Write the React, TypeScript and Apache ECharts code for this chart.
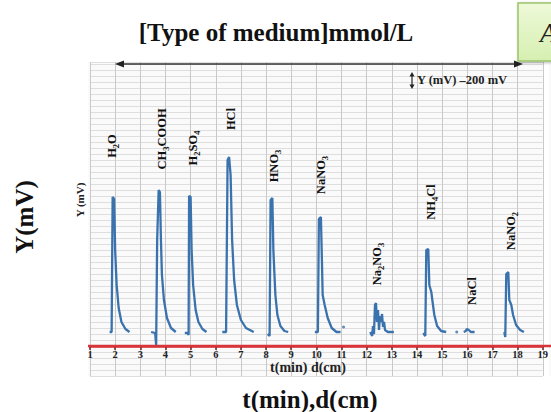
import React, { useEffect, useRef } from "react";
import * as echarts from "echarts";

// x in minutes, y in signal units (0 = red time axis)
const h2oTrace = [[1.78,14],[1.86,14],[1.90,149],[1.96,147],[2.0,96],[2.06,61],[2.14,38],[2.25,24],[2.41,17],[2.57,14]];
const ch3coohTrace = [[3.43,14],[3.59,13],[3.63,1],[3.67,106],[3.73,156],[3.78,154],[3.82,106],[3.86,71],[3.94,46],[4.06,28],[4.22,18],[4.41,14]];
const h2so4Trace = [[4.77,13],[4.88,13],[4.92,11],[4.94,150],[5.0,149],[5.04,96],[5.10,61],[5.20,36],[5.31,24],[5.47,17],[5.63,14]];
const hclTrace = [[6.26,14],[6.41,14],[6.47,186],[6.53,189],[6.59,171],[6.65,106],[6.73,66],[6.84,41],[7.0,26],[7.2,18],[7.51,14]];
const hno3Trace = [[8.06,12],[8.14,10],[8.18,146],[8.25,148],[8.29,96],[8.37,51],[8.45,31],[8.57,20],[8.73,15],[8.88,14]];
const nano3Trace = [[9.94,14],[10.06,14],[10.10,127],[10.18,129],[10.22,86],[10.25,51],[10.33,41],[10.45,28],[10.61,18],[10.8,14],[10.96,14]];
const na2no3Trace = [[12.14,14],[12.22,10],[12.25,20],[12.29,12],[12.33,41],[12.37,43],[12.41,24],[12.45,36],[12.49,16],[12.53,30],[12.57,24],[12.61,32],[12.65,19],[12.69,24],[12.73,16],[12.84,14],[13.08,14]];
const nh4clTrace = [[14.25,13],[14.33,10],[14.37,96],[14.45,97],[14.49,61],[14.57,54],[14.61,46],[14.69,31],[14.8,20],[14.96,15],[15.16,14]];
const naclTrace = [[15.86,14],[15.94,15],[15.98,17],[16.06,16],[16.14,14],[16.29,14]];
const nano2Trace = [[17.47,14],[17.51,9],[17.55,72],[17.63,74],[17.67,46],[17.75,41],[17.82,31],[17.94,21],[18.1,16],[18.25,14]];
const strayPoints = [[11.08,19],[15.58,14]];

const traces = [h2oTrace, ch3coohTrace, h2so4Trace, hclTrace, hno3Trace, nano3Trace, na2no3Trace, nh4clTrace, naclTrace, nano2Trace];

// compound names, as rich-text parts [text, isSubscript]
const compoundNames: [string, boolean][][] = [
  [["H", false], ["2", true], ["O", false]],
  [["CH", false], ["3", true], ["COOH", false]],
  [["H", false], ["2", true], ["SO", false], ["4", true]],
  [["HCl", false]],
  [["HNO", false], ["3", true]],
  [["NaNO", false], ["3", true]],
  [["Na", false], ["2", true], ["NO", false], ["3", true]],
  [["NH", false], ["4", true], ["Cl", false]],
  [["NaCl", false]],
  [["NaNO", false], ["2", true]],
];
// label centres (layout, px)
const labelPos = [[112, 146], [162, 139], [193, 148], [231, 119], [274, 166], [321, 175], [377, 264], [431, 202], [472, 291], [511, 231]];

const titleText = "[Type of medium]mmol/L";
const yName = "Y(mV)";
const xName = "t(min),d(cm)";
const innerXName = "t(min) d(cm)";
const innerYName = "Y (mV)";
const scaleNote = "Y (mV) \u2013200 mV";
const panelLetter = "A";

const SERIF = "'Liberation Serif', 'Times New Roman', serif";

export default function App() {
  const ref = useRef<HTMLDivElement>(null);
  useEffect(() => {
    if (!ref.current) return;
    const chart = echarts.init(ref.current, null, { renderer: "svg" });

    const lineColor = "#3a72ad";
    const series: any[] = traces.map((t) => ({
      type: "line",
      data: t,
      showSymbol: false,
      symbol: "none",
      lineStyle: { color: lineColor, width: 2.3 },
      z: 3,
    }));
    series.push({
      type: "scatter",
      data: strayPoints,
      symbolSize: 3,
      itemStyle: { color: lineColor },
      z: 3,
    });

    const rich = {
      n: { fontFamily: SERIF, fontWeight: "bold", fontSize: 12.5, lineHeight: 16, fill: "#111", verticalAlign: "middle" },
      s: { fontFamily: SERIF, fontWeight: "bold", fontSize: 8.5, lineHeight: 16, fill: "#111", verticalAlign: "bottom" },
    };
    const labelGraphics = compoundNames.map((parts, i) => ({
      type: "text",
      x: labelPos[i][0],
      y: labelPos[i][1],
      rotation: Math.PI / 2,
      style: {
        text: parts.map(([t, sub]) => `{${sub ? "s" : "n"}|${t}}`).join(""),
        rich,
        align: "center",
        verticalAlign: "middle",
      },
      z: 10,
    }));

    const option: any = {
      animation: false,
      grid: {
        left: 90,
        right: 2,
        top: 62,
        bottom: 36,
        show: true,
        backgroundColor: "#fafafa",
        borderWidth: 0,
      },
      xAxis: {
        type: "value",
        min: 1,
        max: 19,
        interval: 1,
        position: "bottom",
        offset: -30,
        axisLine: { onZero: false, lineStyle: { color: "#d8353b", width: 2.5 } },
        axisTick: { show: true, length: 4, lineStyle: { color: "#7a2525", width: 1.5 } },
        axisLabel: {
          margin: 3,
          color: "#222",
          fontFamily: SERIF,
          fontWeight: "bold",
          fontSize: 10.5,
        },
        splitLine: { show: true, lineStyle: { color: "#c9c9c9", width: 1 } },
      },
      yAxis: {
        type: "value",
        min: -30,
        max: 284,
        interval: 6,
        axisLine: { show: false },
        axisTick: { show: false },
        axisLabel: { show: false },
        splitLine: { show: true, lineStyle: { color: "#dedede", width: 1 } },
      },
      series,
      graphic: [
        { type: "rect", shape: { x: 88, y: 62, width: 2, height: 314 }, style: { fill: "#fafafa" } },
        { type: "rect", shape: { x: 549, y: 62, width: 2, height: 314 }, style: { fill: "#fafafa" } },
        { type: "line", shape: { x1: 88, y1: 346, x2: 551, y2: 346 }, style: { stroke: "#d8353b", lineWidth: 2.5 }, z: 1 },
        // top double arrow
        { type: "line", shape: { x1: 120, y1: 64, x2: 516, y2: 64 }, style: { stroke: "#333", lineWidth: 1.5 }, z: 10 },
        { type: "polygon", shape: { points: [[115, 64], [124, 60.5], [124, 67.5]] }, style: { fill: "#222" }, z: 10 },
        { type: "polygon", shape: { points: [[523, 64], [514, 60.5], [514, 67.5]] }, style: { fill: "#222" }, z: 10 },
        // scale note with vertical double arrow
        { type: "line", shape: { x1: 412, y1: 75, x2: 412, y2: 86 }, style: { stroke: "#222", lineWidth: 1.2 }, z: 10 },
        { type: "polygon", shape: { points: [[412, 72], [409.5, 76.5], [414.5, 76.5]] }, style: { fill: "#222" }, z: 10 },
        { type: "polygon", shape: { points: [[412, 89], [409.5, 84.5], [414.5, 84.5]] }, style: { fill: "#222" }, z: 10 },
        {
          type: "text", x: 417, y: 80,
          style: { text: scaleNote, font: `bold 12.5px ${SERIF}`, fill: "#222", align: "left", verticalAlign: "middle" },
          z: 10,
        },
        // green panel box
        {
          type: "rect",
          shape: { x: 518, y: 3, width: 40, height: 58 },
          style: {
            fill: new echarts.graphic.LinearGradient(0, 0, 0, 1, [
              { offset: 0, color: "#eef9d9" },
              { offset: 1, color: "#d6efb0" },
            ]),
            stroke: "#9cc46a",
            lineWidth: 1.5,
            shadowBlur: 3,
            shadowColor: "rgba(0,0,0,0.3)",
            shadowOffsetX: 1,
            shadowOffsetY: 1,
          },
          z: 20,
        },
        {
          type: "text", x: 540, y: 33,
          style: { text: panelLetter, font: `italic 27px ${SERIF}`, fill: "#222", align: "left", verticalAlign: "middle" },
          z: 21,
        },
        // titles
        {
          type: "text", x: 276, y: 32,
          style: { text: titleText, font: `bold 25px ${SERIF}`, fill: "#111", align: "center", verticalAlign: "middle" },
        },
        {
          type: "text", x: 24, y: 217, rotation: Math.PI / 2,
          style: { text: yName, font: `bold 25px ${SERIF}`, fill: "#111", align: "center", verticalAlign: "middle" },
        },
        {
          type: "text", x: 310, y: 399,
          style: { text: xName, font: `bold 25px ${SERIF}`, fill: "#111", align: "center", verticalAlign: "middle" },
        },
        {
          type: "text", x: 308, y: 367,
          style: { text: innerXName, font: `bold 14px ${SERIF}`, fill: "#222", align: "center", verticalAlign: "middle" },
          z: 10,
        },
        {
          type: "text", x: 80, y: 200, rotation: Math.PI / 2,
          style: { text: innerYName, font: `bold 11px ${SERIF}`, fill: "#222", align: "center", verticalAlign: "middle" },
          z: 10,
        },
        ...labelGraphics,
      ],
    };
    chart.setOption(option);
    return () => chart.dispose();
  }, []);
  return <div ref={ref} style={{ width: 551, height: 412, position: "absolute", left: 0, top: 0, background: "#fff" }} />;
}
